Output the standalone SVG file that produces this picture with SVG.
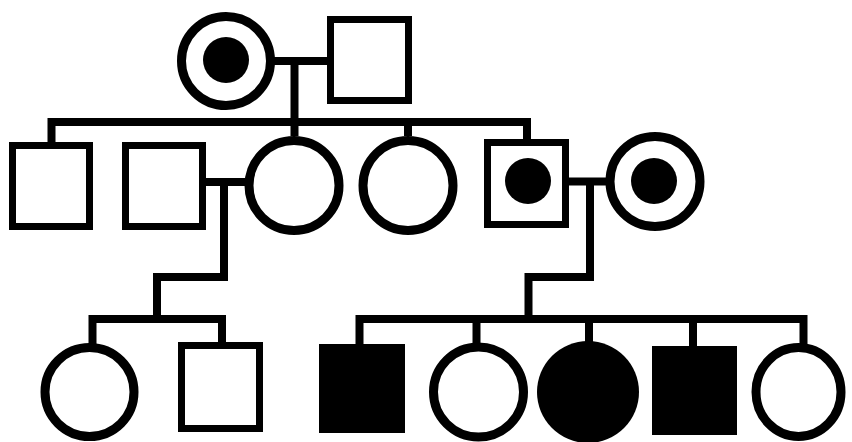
<svg xmlns="http://www.w3.org/2000/svg" width="852" height="442" viewBox="0 0 852 442">
<style>
.c{fill:#fff;stroke:#000;stroke-width:9}
.s{fill:#fff;stroke:#000;stroke-width:7}
.fill{fill:#000;stroke:none}
.ln{fill:none;stroke:#000;stroke-width:8;stroke-linejoin:miter;stroke-linecap:butt}
</style>
<rect width="852" height="442" fill="#fff"/>
<g id="connectors">
<path class="ln" d="M271,61 H331"/>
<path class="ln" d="M294.5,61 V122"/>
<path class="ln" d="M51.5,143 V122 H527 V141"/>
<path class="ln" d="M294.5,122 V136"/>
<path class="ln" d="M408,122 V136"/>
<path class="ln" d="M205,182 H249"/>
<path class="ln" d="M224,182 V277 H157 V319"/>
<path class="ln" d="M92.5,344 V319 H222 V343"/>
<path class="ln" d="M568,181.5 H607"/>
<path class="ln" d="M590,181.5 V277 H528.5 V319"/>
<path class="ln" d="M359.5,345 V319 H803.5 V344"/>
<path class="ln" d="M476.5,319 V344"/>
<path class="ln" d="M589,319 V344"/>
<path class="ln" d="M693,319 V347"/>
</g>
<g id="grandmother">
<circle class="c" cx="226" cy="61" r="44.5"/>
<circle class="fill" cx="226" cy="60" r="23"/>
</g>
<g id="grandfather">
<rect class="s" x="330.5" y="19.5" width="78" height="81"/>
</g>
<g id="son1">
<rect class="s" x="12.5" y="145.5" width="77" height="81"/>
</g>
<g id="husband2">
<rect class="s" x="125.5" y="145.5" width="77" height="81"/>
</g>
<g id="daughter1">
<circle class="c" cx="294" cy="185.5" r="45"/>
</g>
<g id="daughter2">
<circle class="c" cx="408" cy="185.5" r="45"/>
</g>
<g id="son3">
<rect class="s" x="487.5" y="142.5" width="78" height="82"/>
<circle class="fill" cx="528" cy="181" r="23"/>
</g>
<g id="wife3">
<circle class="c" cx="655" cy="181.5" r="45"/>
<circle class="fill" cx="654" cy="181" r="23"/>
</g>
<g id="gc1">
<circle class="c" cx="89.5" cy="392" r="44.5"/>
</g>
<g id="gc2">
<rect class="s" x="181.5" y="345.5" width="78" height="83"/>
</g>
<g id="gc3">
<rect class="fill" x="319" y="344" width="86" height="89"/>
</g>
<g id="gc4">
<circle class="c" cx="478.5" cy="392" r="45"/>
</g>
<g id="gc5">
<circle class="fill" cx="588" cy="392" r="51"/>
</g>
<g id="gc6">
<rect class="fill" x="652" y="346" width="85" height="89"/>
</g>
<g id="gc7">
<ellipse class="c" cx="798.5" cy="392" rx="42.5" ry="44.5"/>
</g>
</svg>
